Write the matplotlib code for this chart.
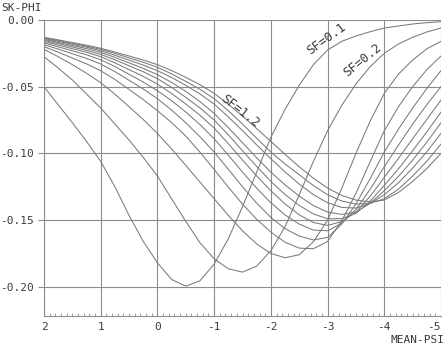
import matplotlib
matplotlib.use("Agg")
from matplotlib import pyplot as plt
from matplotlib.ticker import MultipleLocator

# mean psi where the curves were read (2 down to -5, step 0.25)
mean_psi = [2.0, 1.75, 1.5, 1.25, 1.0, 0.75, 0.5, 0.25, 0.0, -0.25, -0.5, -0.75,
            -1.0, -1.25, -1.5, -1.75, -2.0, -2.25, -2.5, -2.75, -3.0, -3.25,
            -3.5, -3.75, -4.0, -4.25, -4.5, -4.75, -5.0]

sf_labels = ['0.1', '0.2', '0.3', '0.4', '0.5', '0.6',
             '0.7', '0.8', '0.9', '1.0', '1.1', '1.2']

# SK-PHI, one list per SF
sk_01 = [-0.050, -0.0635, -0.077, -0.091, -0.106, -0.125, -0.1465, -0.166, -0.182, -0.1945, -0.1995, -0.1955,
         -0.183, -0.164, -0.140, -0.114, -0.088, -0.067, -0.049, -0.0335, -0.0225, -0.016,
         -0.012, -0.0088, -0.006, -0.0045, -0.003, -0.002, -0.0013]
sk_02 = [-0.0275, -0.036, -0.045, -0.0555, -0.066, -0.078, -0.090, -0.103, -0.117, -0.134, -0.151, -0.167,
         -0.179, -0.1865, -0.189, -0.1845, -0.173, -0.155, -0.131, -0.106, -0.083, -0.064,
         -0.048, -0.035, -0.025, -0.018, -0.013, -0.009, -0.006]
sk_03 = [-0.022, -0.0275, -0.0335, -0.0399, -0.047, -0.0556, -0.065, -0.0746, -0.085, -0.0967, -0.109, -0.1215,
         -0.134, -0.1465, -0.158, -0.1679, -0.175, -0.1782, -0.176, -0.1662, -0.150, -0.1262,
         -0.100, -0.0759, -0.055, -0.0406, -0.030, -0.0216, -0.016]
sk_04 = [-0.020, -0.0241, -0.0285, -0.0329, -0.038, -0.0446, -0.052, -0.0597, -0.068, -0.0769, -0.087, -0.0991,
         -0.112, -0.1253, -0.138, -0.1494, -0.159, -0.1666, -0.171, -0.1715, -0.166, -0.1506,
         -0.130, -0.1063, -0.083, -0.065, -0.050, -0.0372, -0.027]
sk_05 = [-0.0185, -0.0218, -0.0253, -0.0288, -0.033, -0.0387, -0.0452, -0.0517, -0.059, -0.0675, -0.077, -0.0875,
         -0.099, -0.1119, -0.125, -0.1373, -0.148, -0.1564, -0.162, -0.1649, -0.163, -0.153,
         -0.138, -0.119, -0.099, -0.0818, -0.066, -0.0514, -0.038]
sk_06 = [-0.0172, -0.0201, -0.0231, -0.0261, -0.0298, -0.0349, -0.0407, -0.0465, -0.053, -0.0605, -0.069, -0.0784,
         -0.089, -0.1013, -0.114, -0.1261, -0.137, -0.1461, -0.153, -0.1575, -0.158, -0.1523,
         -0.142, -0.127, -0.110, -0.0938, -0.078, -0.0635, -0.050]
sk_07 = [-0.0161, -0.0188, -0.0215, -0.0242, -0.0275, -0.0321, -0.0372, -0.0423, -0.048, -0.0551, -0.063, -0.0714,
         -0.081, -0.0927, -0.105, -0.1169, -0.128, -0.1379, -0.146, -0.1518, -0.154, -0.1511,
         -0.144, -0.1322, -0.118, -0.1037, -0.089, -0.0745, -0.060]
sk_08 = [-0.0152, -0.0177, -0.0202, -0.0228, -0.0258, -0.0298, -0.0343, -0.0388, -0.044, -0.0505, -0.058, -0.0659,
         -0.075, -0.0861, -0.098, -0.1098, -0.121, -0.1308, -0.139, -0.1454, -0.149, -0.1489,
         -0.145, -0.1359, -0.124, -0.1115, -0.098, -0.0839, -0.069]
sk_09 = [-0.0145, -0.0168, -0.0191, -0.0215, -0.0243, -0.028, -0.0321, -0.0363, -0.041, -0.0468, -0.0535, -0.0612,
         -0.070, -0.0807, -0.092, -0.1033, -0.114, -0.1236, -0.132, -0.1391, -0.144, -0.1457,
         -0.144, -0.1374, -0.128, -0.1173, -0.105, -0.0916, -0.077]
sk_10 = [-0.0139, -0.016, -0.0182, -0.0204, -0.023, -0.0264, -0.0301, -0.0338, -0.038, -0.0431, -0.049, -0.0554,
         -0.063, -0.0726, -0.083, -0.0936, -0.104, -0.1139, -0.123, -0.1309, -0.137, -0.1405,
         -0.141, -0.1375, -0.131, -0.122, -0.111, -0.0988, -0.085]
sk_11 = [-0.0133, -0.0153, -0.0174, -0.0196, -0.022, -0.025, -0.0284, -0.0317, -0.0355, -0.0404, -0.046, -0.052,
         -0.059, -0.068, -0.078, -0.0886, -0.099, -0.1079, -0.116, -0.1241, -0.131, -0.1357,
         -0.138, -0.1375, -0.134, -0.1268, -0.117, -0.1059, -0.093]
sk_12 = [-0.0130, -0.0149, -0.0169, -0.0189, -0.0212, -0.024, -0.0270, -0.0300, -0.0335, -0.0379, -0.043, -0.0485,
         -0.055, -0.0631, -0.072, -0.0814, -0.091, -0.1007, -0.110, -0.1186, -0.126, -0.1315,
         -0.135, -0.1364, -0.135, -0.1293, -0.121, -0.1114, -0.100]

curves = [sk_01, sk_02, sk_03, sk_04, sk_05, sk_06,
          sk_07, sk_08, sk_09, sk_10, sk_11, sk_12]

x_ticks = [2, 1, 0, -1, -2, -3, -4, -5]
y_ticks = [0.0, -0.05, -0.10, -0.15, -0.20]

plt.rcParams['font.family'] = ['DejaVu Sans Mono', 'DejaVu Sans']
fig = plt.figure(figsize=(4.45, 3.47), dpi=100)
ax = fig.add_axes([44 / 445, 31 / 347, 397 / 445, 296 / 347])

line_col = '#7a7a7a'
grid_col = '#8c8c8c'
text_col = '#3a3a3a'

for ys in curves:
    ax.plot(mean_psi, ys, color=line_col, lw=0.75)

ax.set_xlim(2, -5)
ax.set_ylim(-0.2219, 0.0)
ax.set_xticks(x_ticks)
ax.set_xticklabels([str(v) for v in x_ticks])
ax.xaxis.set_minor_locator(MultipleLocator(0.1))
ax.set_yticks(y_ticks)
ax.set_yticklabels(['%.2f' % v for v in y_ticks])
ax.grid(True, which='major', color=grid_col, lw=0.8)
ax.tick_params(axis='x', which='major', length=0, pad=4)
ax.tick_params(axis='x', which='minor', direction='in', length=2, width=0.6, color=grid_col)
ax.tick_params(axis='y', which='major', direction='out', length=4, width=0.8, color=grid_col, pad=3)
ax.tick_params(labelsize=8, labelcolor=text_col)
ax.get_xticklabels()[-1].set_horizontalalignment('right')
for side in ['top', 'right']:
    ax.spines[side].set_visible(False)
for side in ['left', 'bottom']:
    ax.spines[side].set_color(grid_col)
    ax.spines[side].set_linewidth(0.8)

fig.text(0.002, 1 - 8 / 347, 'SK-PHI', ha='left', va='center', fontsize=8, color=text_col)
fig.text(0.999, 1 - 340 / 347, 'MEAN-PSI', ha='right', va='center', fontsize=8, color=text_col)

lab_kw = dict(ha='center', va='center', fontsize=9, color=text_col, rotation_mode='anchor')
ax.text(-2.98, -0.0142, 'SF=' + sf_labels[0], rotation=36, **lab_kw)
ax.text(-3.61, -0.030, 'SF=' + sf_labels[1], rotation=39, **lab_kw)
ax.text(-1.45, -0.0682, 'SF=' + sf_labels[-1], rotation=-38, **lab_kw)

fig.savefig('out.png', dpi=100)
